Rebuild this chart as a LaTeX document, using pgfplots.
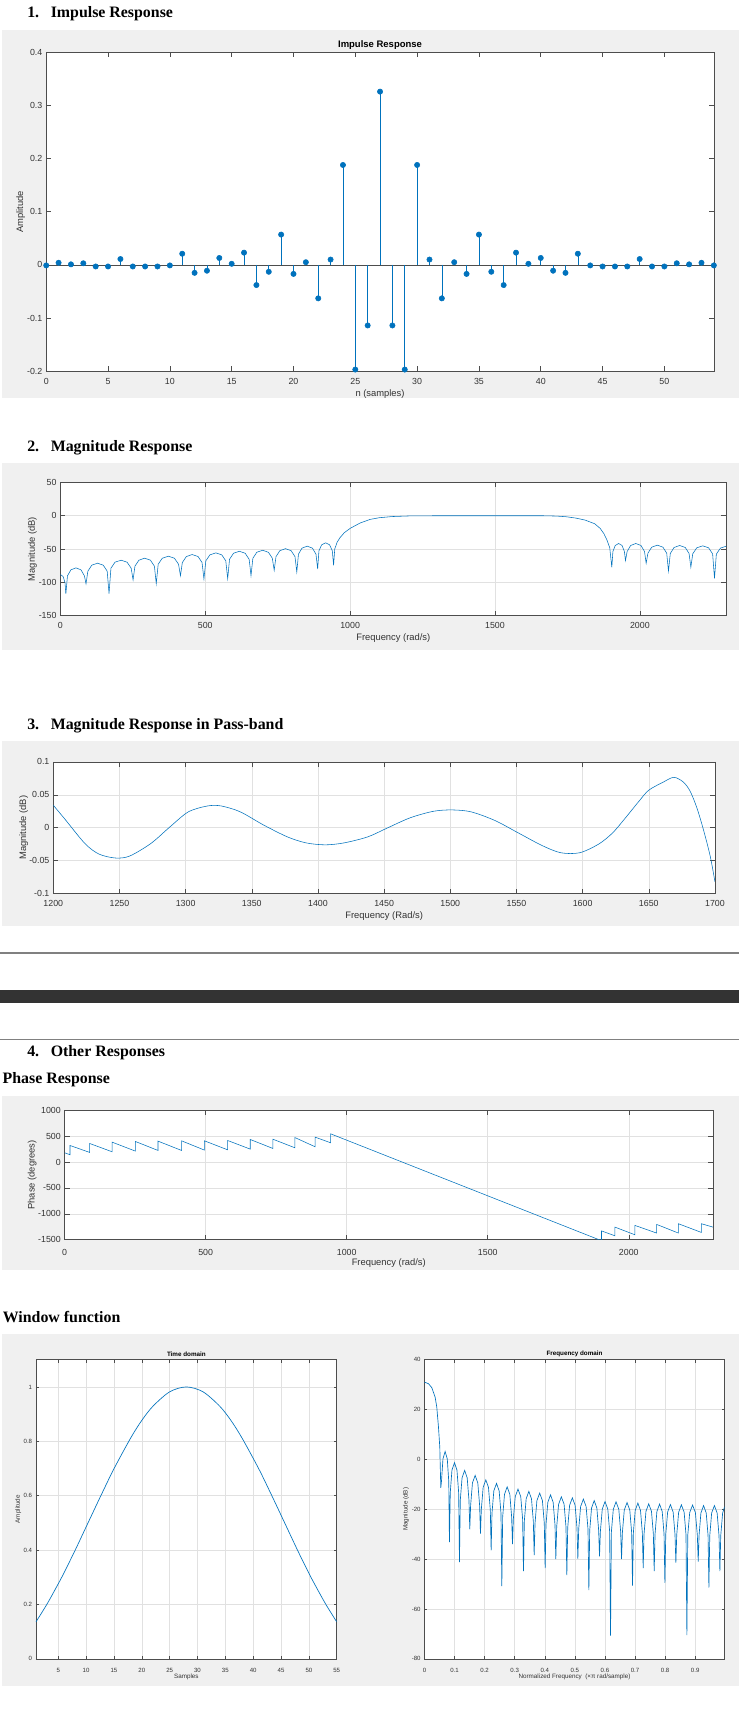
\documentclass[border=0pt]{standalone}
\usepackage{pgfplots}
\pgfplotsset{compat=1.18}
\usepackage{fontspec}
\setmainfont{Liberation Sans}
\newfontfamily\headfont{Liberation Serif}
\definecolor{panel}{HTML}{F0F0F0}
\definecolor{axcol}{HTML}{4D4D4D}
\definecolor{labcol}{HTML}{333333}
\definecolor{gridcol}{HTML}{E1E1E1}
\definecolor{mblue}{HTML}{0072BD}
\definecolor{sepcol}{HTML}{808080}
\definecolor{barcol}{HTML}{333333}
\newcommand\hd[1]{{\headfont\bfseries\fontsize{14.4}{16}\selectfont #1}}
\pgfplotsset{
 mat/.style={
  scale only axis, anchor=south west,
  axis background/.style={fill=white},
  axis line style={draw=axcol, line width=0.6pt},
  tick align=inside,
  major tick style={draw=axcol, line width=0.5pt},
  major tick length=4.5pt,
  ticklabel style={text=labcol, font=\fontsize{8}{9}\selectfont},
  label style={text=labcol, font=\fontsize{8.5}{10}\selectfont},
  title style={text=black, font=\bfseries\fontsize{8.6}{10}\selectfont, yshift=-6pt},
  grid style={draw=gridcol, line width=0.5pt},
  scaled ticks=false,
  xticklabel style={yshift=-3pt},
 },
 smallfig/.style={
  major tick length=2.7pt,
  ticklabel style={font=\fontsize{5.5}{6.5}\selectfont},
  label style={font=\fontsize{5.7}{6.5}\selectfont},
  title style={font=\bfseries\fontsize{5.7}{6.5}\selectfont},
  xticklabel style={yshift=-2pt},
 }
}
\begin{document}
\begin{tikzpicture}[x=1pt,y=1pt]
\fill[white] (0,0) rectangle (670,-1568);
\fill[panel] (1.8,-27.2) rectangle (670,-361.1);
\fill[panel] (1.8,-419.5) rectangle (670,-588.7);
\fill[panel] (1.8,-671.8) rectangle (670,-839.5);
\fill[sepcol] (0,-863.2) rectangle (670,-864.4);
\fill[barcol] (0,-897) rectangle (670,-909);
\fill[sepcol] (0,-941.4) rectangle (670,-942.6);
\fill[panel] (1.8,-993.7) rectangle (670,-1150.8);
\fill[panel] (1.8,-1209.4) rectangle (670,-1528.2);

\node[anchor=base west, inner sep=0] at (24.5,-16) {\hd{1.}};
\node[anchor=base west, inner sep=0] at (45.8,-16) {\hd{Impulse Response}};
\node[anchor=base west, inner sep=0] at (24.5,-409.5) {\hd{2.}};
\node[anchor=base west, inner sep=0] at (45.8,-409.5) {\hd{Magnitude Response}};
\node[anchor=base west, inner sep=0] at (24.5,-661.2) {\hd{3.}};
\node[anchor=base west, inner sep=0] at (45.8,-661.2) {\hd{Magnitude Response in Pass-band}};
\node[anchor=base west, inner sep=0] at (24.5,-957.8) {\hd{4.}};
\node[anchor=base west, inner sep=0] at (45.8,-957.8) {\hd{Other Responses}};
\node[anchor=base west, inner sep=0] at (2.2,-982.2) {\hd{Phase Response}};
\node[anchor=base west, inner sep=0] at (2.4,-1199) {\hd{Window function}};

% ---------- 1. Impulse response ----------
\begin{axis}[mat, at={(41.9pt,-336.4pt)}, width=605.1pt, height=289pt,
 xmin=0, xmax=54, ymin=-0.2, ymax=0.4,
 xtick={0,5,10,15,20,25,30,35,40,45,50}, xticklabels={0,5,10,15,20,25,30,35,40,45,50},
 ytick={-0.2,-0.1,0,0.1,0.2,0.3,0.4}, yticklabels={-0.2,-0.1,0,0.1,0.2,0.3,0.4},
 title={Impulse Response}, xlabel={n (samples)}, ylabel={Amplitude},
 title style={at={(0.5,1.023)}, anchor=center},
 xlabel style={at={(axis description cs:0.5,-0.0727)}, anchor=center},
 ylabel style={at={(axis description cs:-0.0383,0.5)}, anchor=center},
 clip=false]
\addplot[draw=axcol, line width=0.6pt] coordinates {(0,0) (54,0)};
\addplot[ycomb, draw=mblue, line width=0.5pt, mark=*, mark size=2.4pt, mark options={fill=mblue, draw=mblue}] coordinates {
(0,-0.001) (1,0.004) (2,0.001) (3,0.003) (4,-0.003) (5,-0.003) (6,0.011) (7,-0.003) (8,-0.003) (9,-0.003)
(10,-0.001) (11,0.021) (12,-0.015) (13,-0.011) (14,0.013) (15,0.002) (16,0.023) (17,-0.038) (18,-0.013) (19,0.057)
(20,-0.017) (21,0.005) (22,-0.063) (23,0.010) (24,0.188) (25,-0.197) (26,-0.114) (27,0.326) (28,-0.114) (29,-0.197)
(30,0.188) (31,0.010) (32,-0.063) (33,0.005) (34,-0.017) (35,0.057) (36,-0.013) (37,-0.038) (38,0.023) (39,0.002)
(40,0.013) (41,-0.011) (42,-0.015) (43,0.021) (44,-0.001) (45,-0.003) (46,-0.003) (47,-0.003) (48,0.011) (49,-0.003)
(50,-0.003) (51,0.003) (52,0.001) (53,0.004) (54,-0.001)};
\end{axis}

% ---------- 2. Magnitude response ----------
\begin{axis}[mat, at={(54.7pt,-557.9pt)}, width=603.5pt, height=120.6pt,
 xmin=0, xmax=2298, ymin=-150, ymax=50, grid=major,
 xtick={0,500,1000,1500,2000}, xticklabels={0,500,1000,1500,2000},
 ytick={-150,-100,-50,0,50}, yticklabels={-150,-100,-50,0,50},
 xlabel={Frequency (rad/s)}, ylabel={Magnitude (dB)},
 xlabel style={at={(axis description cs:0.5,-0.1675)}, anchor=center},
 ylabel style={at={(axis description cs:-0.042,0.5)}, anchor=center}]
\addplot[draw=mblue, line width=0.5pt] coordinates {
(0,-88.3) (9.5,-91.3) (16,-100.3) (19,-117.5)
(24.6,-90.3) (36.4,-81.3) (53.8,-78.3) (71.2,-81.3) (83,-90.3) (88.6,-102.3)
(94.95,-83.3) (108.45,-74.3) (128.3,-71.3) (148.15,-74.3) (161.65,-83.3) (168,-117)
(174.6,-78.8) (188.75,-69.8) (209.5,-66.8) (230.25,-69.8) (244.4,-78.8) (251,-96.4)
(257.4,-75.8) (271,-66.8) (291,-63.8) (311,-66.8) (324.6,-75.8) (331,-102)
(337.7,-72.8) (351.9,-63.8) (372.75,-60.8) (393.6,-63.8) (407.8,-72.8) (414.5,-90)
(421,-70.3) (434.75,-61.3) (455,-58.3) (475.25,-61.3) (489,-70.3) (495.5,-95)
(502.1,-67.8) (516,-58.8) (536.5,-55.8) (557,-58.8) (570.9,-67.8) (577.5,-94.5)
(583.9,-65.4) (597.6,-56.4) (617.75,-53.4) (637.9,-56.4) (651.6,-65.4) (658,-90)
(664.4,-63.9) (678,-54.9) (698,-51.9) (718,-54.9) (731.6,-63.9) (738,-82)
(744.2,-61.5) (757.5,-52.5) (777,-49.5) (796.5,-52.5) (809.8,-61.5) (816,-84.5)
(821.8,-57.7) (834,-48.7) (852,-45.7) (870,-48.7) (882.2,-57.7) (888,-80)
(892.4,-52.7) (901.75,-43.7) (915.5,-40.7) (929.25,-43.7) (938.6,-52.7) (943,-74.4)
(947,-50) (955,-40) (965,-33) (980,-25.5) (1000,-19) (1034,-11) (1069,-5.5) (1100,-3)
(1145,-1.2) (1210,-0.2) (1300,0) (1450,0) (1600,0) (1665,0) (1713,-0.5) (1746,-1.5)
(1779,-3.5) (1811,-6.5) (1844,-12) (1863,-19) (1876,-27) (1886,-36) (1896,-48) (1903.2,-77.4)
(1907,-53.7) (1915,-44.7) (1926.8,-41.7) (1938.6,-44.7) (1946.6,-53.7) (1950.4,-67.3)
(1956.1,-53.7) (1968.2,-44.7) (1986,-41.7) (2003.9,-44.7) (2016,-53.7) (2021.7,-71.4)
(2027.9,-56.2) (2041,-47.2) (2060.25,-44.2) (2079.5,-47.2) (2092.6,-56.2) (2098.8,-83)
(2105,-56.7) (2118.1,-47.7) (2137.4,-44.7) (2156.7,-47.7) (2169.8,-56.7) (2176,-77.4)
(2182.5,-57.2) (2196.4,-48.2) (2216.8,-45.2) (2237.2,-48.2) (2251.1,-57.2) (2257.6,-94)
(2264,-57.7) (2278,-48.7) (2298,-45.7)};
\end{axis}

% ---------- 3. Pass-band ----------
\begin{axis}[mat, at={(48.3pt,-809.9pt)}, width=599.7pt, height=119.4pt,
 xmin=1200, xmax=1700, ymin=-0.1, ymax=0.1, grid=major,
 xtick={1200,1250,1300,1350,1400,1450,1500,1550,1600,1650,1700},
 xticklabels={1200,1250,1300,1350,1400,1450,1500,1550,1600,1650,1700},
 ytick={-0.1,-0.05,0,0.05,0.1}, yticklabels={-0.1,-0.05,0,0.05,0.1},
 xlabel={Frequency (Rad/s)}, ylabel={Magnitude (dB)},
 xlabel style={at={(axis description cs:0.5,-0.1725)}, anchor=center},
 ylabel style={at={(axis description cs:-0.0449,0.5)}, anchor=center}]
\addplot[draw=mblue, line width=0.5pt, smooth] coordinates {
(1200,0.0342) (1209.6,0.011) (1223.9,-0.024) (1234.5,-0.040) (1247,-0.046) (1257.7,-0.043)
(1273.7,-0.024) (1288,0.001) (1302,0.024) (1316.5,0.033) (1327,0.033) (1341.4,0.024)
(1359,0.004) (1377,-0.014) (1391,-0.023) (1405.5,-0.026) (1419.8,-0.023) (1437.5,-0.014)
(1451.8,-0.001) (1469.6,0.015) (1487.4,0.025) (1501.6,0.027) (1515.9,0.024) (1533.7,0.011)
(1551.5,-0.008) (1569.3,-0.027) (1583.5,-0.038) (1597.8,-0.038) (1612,-0.025) (1622.6,-0.008)
(1632.8,0.016) (1642.9,0.041) (1650,0.057) (1660.7,0.069) (1668.9,0.0765) (1676,0.0695)
(1681.1,0.056) (1686.2,0.031) (1691.3,-0.003) (1696.4,-0.043) (1700,-0.082)};
\end{axis}

% ---------- Phase ----------
\begin{axis}[mat, at={(58.6pt,-1123.6pt)}, width=587.5pt, height=117.3pt,
 xmin=0, xmax=2298, ymin=-1500, ymax=1000, grid=major,
 xtick={0,500,1000,1500,2000}, xticklabels={0,500,1000,1500,2000},
 ytick={-1500,-1000,-500,0,500,1000}, yticklabels={-1500,-1000,-500,0,500,1000},
 xlabel={Frequency (rad/s)}, ylabel={Phase (degrees)},
 xticklabel style={yshift=-2pt},
 xlabel style={at={(axis description cs:0.5,-0.177)}, anchor=center},
 ylabel style={at={(axis description cs:-0.0499,0.5)}, anchor=center}]
\addplot[draw=mblue, line width=0.5pt] coordinates {
(0,179) (19,141) (19,320) (88.6,186) (88.6,359) (168,199) (168,385) (251,211) (251,397)
(331,224) (331,404) (414.5,224) (414.5,410) (495.5,231) (495.5,410) (577.5,237) (577.5,417)
(658,250) (658,436) (738,263) (738,442) (816,276) (816,474) (888,295) (888,481) (943,372) (943,545)
(1903.2,-1519) (1903.2,-1330) (1950.4,-1424) (1950.4,-1256) (2021.7,-1405) (2021.7,-1224)
(2098.8,-1372) (2098.8,-1205) (2176,-1372) (2176,-1192) (2257.6,-1360) (2257.6,-1192) (2298,-1256)};
\end{axis}

% ---------- Window: time domain ----------
\begin{axis}[mat, smallfig, at={(32.6pt,-1503.5pt)}, width=272.6pt, height=271.1pt,
 xmin=1, xmax=55, ymin=0, ymax=1.1, grid=major,
 xtick={5,10,15,20,25,30,35,40,45,50,55}, xticklabels={5,10,15,20,25,30,35,40,45,50,55},
 ytick={0,0.2,0.4,0.6,0.8,1}, yticklabels={0,0.2,0.4,0.6,0.8,1},
 title={Time domain}, xlabel={Samples}, ylabel={Amplitude},
 title style={at={(0.5,1.018)}, anchor=center},
 xlabel style={at={(axis description cs:0.5,-0.06)}, anchor=center},
 ylabel style={at={(axis description cs:-0.0587,0.5)}, anchor=center}]
\addplot[draw=mblue, line width=0.6pt, smooth] coordinates {
(1,0.136) (3,0.202) (5,0.276) (6,0.315) (8,0.398) (10,0.485) (12,0.572) (13,0.615) (15,0.699)
(18,0.812) (20,0.877) (22,0.929) (25,0.982) (28,1.0) (31,0.982) (34,0.929) (36,0.877) (38,0.812)
(41,0.699) (43,0.615) (44,0.572) (46,0.485) (48,0.398) (50,0.315) (51,0.276) (53,0.202) (55,0.136)};
\end{axis}

% ---------- Window: frequency domain ----------
\begin{axis}[mat, smallfig, at={(384.7pt,-1503.5pt)}, width=272pt, height=271.1pt,
 xmin=0, xmax=0.9975, ymin=-80, ymax=40, grid=major,
 xtick={0,0.1,0.2,0.3,0.4,0.5,0.6,0.7,0.8,0.9}, xticklabels={0,0.1,0.2,0.3,0.4,0.5,0.6,0.7,0.8,0.9},
 ytick={-80,-60,-40,-20,0,20,40}, yticklabels={-80,-60,-40,-20,0,20,40},
 title={Frequency domain}, xlabel={Normalized Frequency\ \ (×π rad/sample)}, ylabel={Magnitude (dB)},
 title style={at={(0.5,1.018)}, anchor=center},
 xlabel style={at={(axis description cs:0.5,-0.06)}, anchor=center},
 ylabel style={at={(axis description cs:-0.0614,0.5)}, anchor=center}]
\addplot[draw=mblue, line width=0.6pt] coordinates {
(0,31) (0.0133,30.4) (0.0244,28.8) (0.0355,25) (0.041,21) (0.0466,13) (0.051,5) (0.0543,-11.4)
(0.0566,-8.8) (0.0615,0.2) (0.0687,3.2) (0.0759,0.2) (0.0808,-8.8) (0.0831,-33.2)
(0.0858,-13.3) (0.0914,-4.3) (0.0998,-1.3) (0.1081,-4.3) (0.1137,-13.3) (0.1164,-41.2)
(0.1191,-16.4) (0.1250,-7.4) (0.1336,-4.4) (0.1421,-7.4) (0.1480,-16.4) (0.1507,-28)
(0.1535,-18.4) (0.1596,-9.4) (0.1685,-6.4) (0.1773,-9.4) (0.1834,-18.4) (0.1862,-29.8)
(0.1890,-20.2) (0.1951,-11.2) (0.2040,-8.2) (0.2128,-11.2) (0.2189,-20.2) (0.2217,-36.5)
(0.2245,-21.6) (0.2306,-12.6) (0.2395,-9.6) (0.2483,-12.6) (0.2544,-21.6) (0.2572,-50.8)
(0.2600,-23) (0.2661,-14) (0.2749,-11) (0.2838,-14) (0.2898,-23) (0.2926,-34)
(0.2955,-23.9) (0.3018,-14.9) (0.3109,-11.9) (0.3201,-14.9) (0.3263,-23.9) (0.3292,-44.8)
(0.3320,-24.8) (0.3381,-15.8) (0.3470,-12.8) (0.3558,-15.8) (0.3619,-24.8) (0.3647,-38.4)
(0.3676,-25.5) (0.3738,-16.5) (0.3830,-13.5) (0.3921,-16.5) (0.3983,-25.5) (0.4012,-43.6)
(0.4040,-26.2) (0.4101,-17.2) (0.4190,-14.2) (0.4278,-17.2) (0.4339,-26.2) (0.4367,-40)
(0.4396,-27) (0.4459,-18) (0.4550,-15) (0.4642,-18) (0.4704,-27) (0.4733,-46.4)
(0.4762,-27.4) (0.4825,-18.4) (0.4916,-15.4) (0.5008,-18.4) (0.5070,-27.4) (0.5099,-39.9)
(0.5128,-27.9) (0.5191,-18.9) (0.5282,-15.9) (0.5374,-18.9) (0.5436,-27.9) (0.5465,-52.4)
(0.5493,-28.5) (0.5554,-19.5) (0.5642,-16.5) (0.5731,-19.5) (0.5791,-28.5) (0.5819,-38.9)
(0.5848,-28.9) (0.5911,-19.9) (0.6002,-16.9) (0.6094,-19.9) (0.6156,-28.9) (0.6185,-70.7)
(0.6214,-29) (0.6277,-20) (0.6368,-17) (0.6460,-20) (0.6522,-29) (0.6551,-40)
(0.6580,-29.3) (0.6642,-20.3) (0.6734,-17.3) (0.6825,-20.3) (0.6887,-29.3) (0.6916,-50.6)
(0.6944,-29.5) (0.7005,-20.5) (0.7094,-17.5) (0.7182,-20.5) (0.7243,-29.5) (0.7271,-43.6)
(0.7300,-29.8) (0.7363,-20.8) (0.7454,-17.8) (0.7546,-20.8) (0.7608,-29.8) (0.7637,-44.8)
(0.7665,-29.9) (0.7726,-20.9) (0.7815,-17.9) (0.7903,-20.9) (0.7964,-29.9) (0.7992,-49.5)
(0.8021,-30.1) (0.8083,-21.1) (0.8175,-18.1) (0.8266,-21.1) (0.8328,-30.1) (0.8357,-41.5)
(0.8386,-30.2) (0.8449,-21.2) (0.8540,-18.2) (0.8632,-21.2) (0.8694,-30.2) (0.8723,-70.5)
(0.8753,-30.3) (0.8817,-21.3) (0.8912,-18.3) (0.9006,-21.3) (0.9070,-30.3) (0.9100,-41)
(0.9128,-30.5) (0.9189,-21.5) (0.9278,-18.5) (0.9366,-21.5) (0.9427,-30.5) (0.9455,-51.4)
(0.9484,-30.5) (0.9546,-21.5) (0.9638,-18.5) (0.9729,-21.5) (0.9791,-30.5) (0.9820,-44.8)
(0.9849,-30.5) (0.9911,-21.5) (0.9975,-19)};
\end{axis}
\end{tikzpicture}
\end{document}
